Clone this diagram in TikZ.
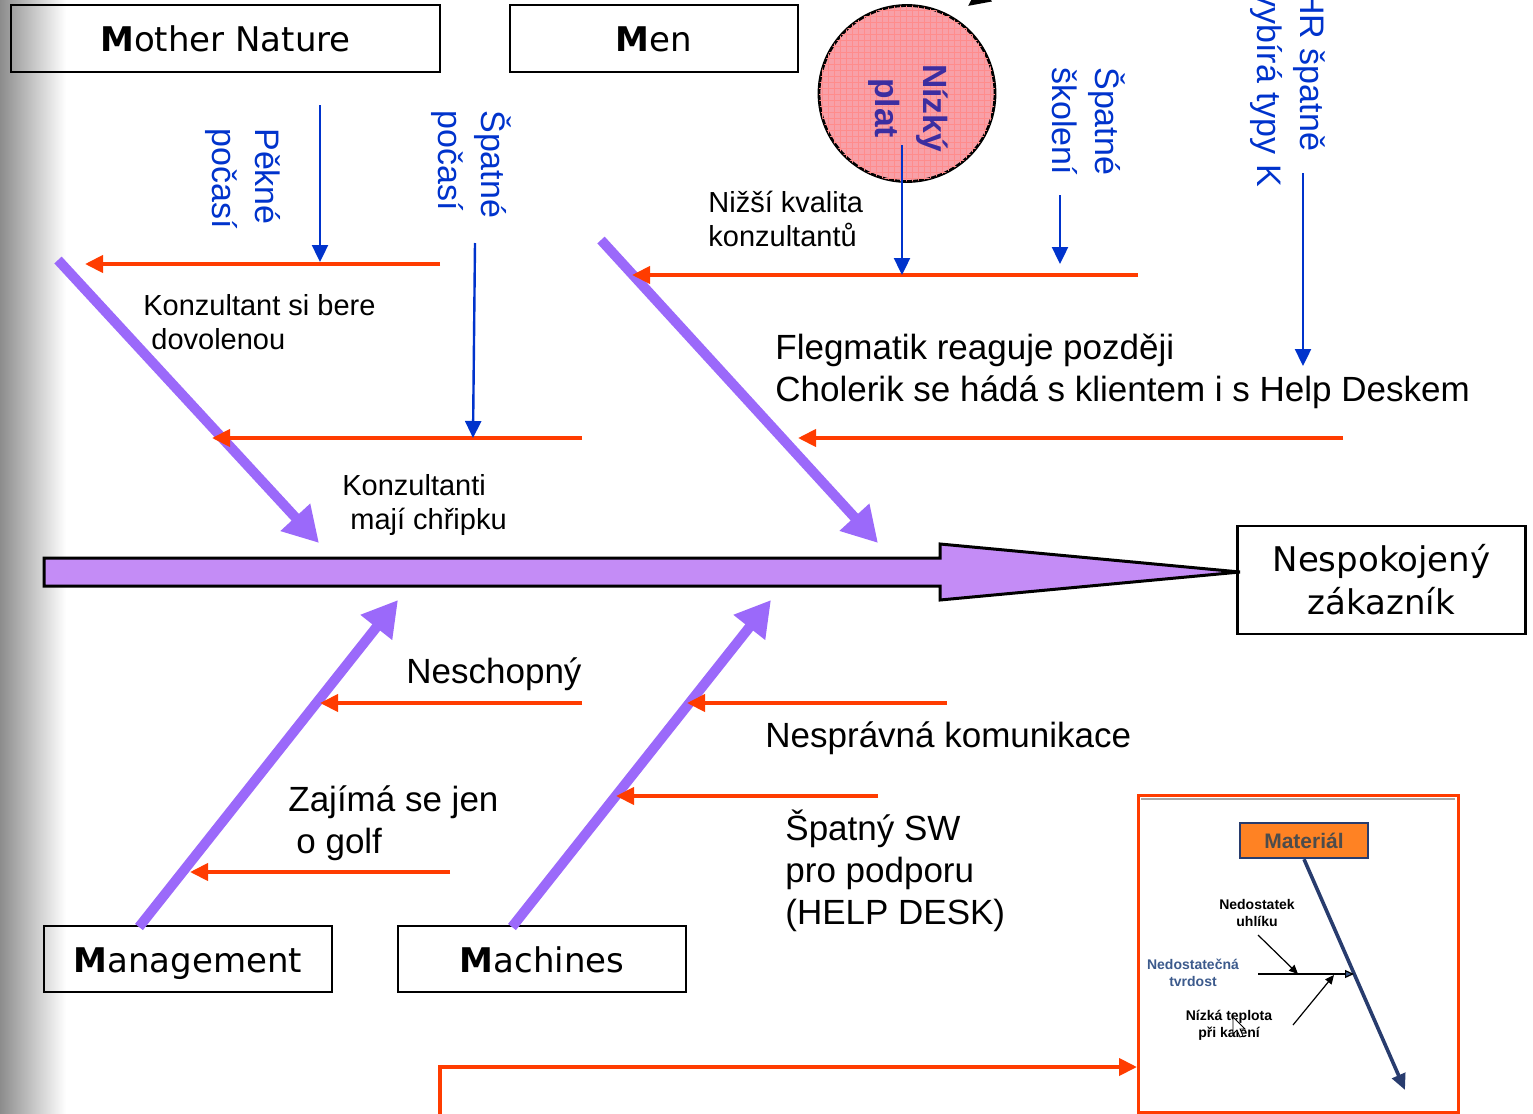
\documentclass[tikz,border=0pt]{standalone}
\usepackage{fontspec}
\setmainfont{Liberation Sans}
\newfontfamily\boxfont{DejaVu Sans}
\usetikzlibrary{arrows.meta,patterns}
\definecolor{bonepurple}{RGB}{155,105,250}
\definecolor{spinefill}{RGB}{196,140,246}
\definecolor{causered}{RGB}{255,60,0}
\definecolor{subblue}{RGB}{0,51,204}
\definecolor{platpink}{RGB}{248,160,168}
\definecolor{platblue}{RGB}{60,45,160}
\definecolor{insetnavy}{RGB}{40,60,110}
\definecolor{insetorange}{RGB}{255,130,35}
\definecolor{insetsteel}{RGB}{60,90,140}
\begin{document}
\begin{tikzpicture}[x=0.5pt,y=-0.5pt,
    catbox/.style={draw,line width=1.3pt,inner sep=0pt,minimum width=144pt,minimum height=33.5pt,font=\boxfont\fontsize{17}{21.5}\selectfont},
    mbox/.style={catbox,text height=13pt,text depth=0pt},
    bone/.style={bonepurple,line width=5pt,-{Triangle[length=17.5pt,width=19pt]}},
    cause/.style={causered,line width=2pt,-{Triangle[length=9pt,width=8.5pt]}},
    subarrow/.style={subblue,line width=1.2pt,-{Triangle[length=8.5pt,width=8pt]}},
    causetext/.style={inner sep=0pt,align=left,font=\fontsize{17.5}{21}\selectfont},
    smalltext/.style={inner sep=0pt,align=left,font=\fontsize{14.5}{17}\selectfont},
    sublabel/.style={subblue,rotate=-90,anchor=north west,inner sep=0pt,align=left,font=\fontsize{17}{21.5}\selectfont},
    platlabel/.style={platblue,rotate=-90,anchor=north,inner sep=0pt,align=center,font=\bfseries\fontsize{16.8}{24}\selectfont},
    insettext/.style={inner sep=0pt,align=center,font=\bfseries\fontsize{7}{8.5}\selectfont},
    thinarrow/.style={line width=0.6pt,-{Triangle[length=4.5pt,width=4pt]}}]
  \shade[left color=black!45,right color=white] (0,0) rectangle (66,1114);
  \useasboundingbox (0,0) rectangle (1533,1114);
  % the four M boxes and the effect
  \node[mbox,minimum width=214.5pt] (nature) at (225.5,38.5) {\textbf{M}other Nature};
  \node[mbox] (men) at (654,38.5) {\textbf{M}en};
  \node[mbox,minimum height=33pt] (mgmt) at (188,959) {\textbf{M}anagement};
  \node[mbox,minimum height=33pt] (mach) at (542,959) {\textbf{M}achines};
  \node[catbox,minimum height=54pt,align=center] (zak) at (1381.5,580) {Nespokojený\\zákazník};
  % spine
  \coordinate(tip)at(1240,572);
  \draw[line width=1.5pt,fill=spinefill] (44,558) -- (940,558) -- (940,544) -- (tip) -- (940,600) -- (940,586) -- (44,586) -- cycle;
  % bones
  \coordinate(b1s)at(58,260);\coordinate(b1t)at(319,543);
  \coordinate(b2s)at(601,240);\coordinate(b2t)at(878,543);
  \coordinate(b3s)at(139,927);\coordinate(b3t)at(398,600);
  \coordinate(b4s)at(512,927);\coordinate(b4t)at(771,600);
  \draw[bone] (b1s) -- (b1t);
  \draw[bone] (b2s) -- (b2t);
  \draw[bone] (b3s) -- (b3t);
  \draw[bone] (b4s) -- (b4t);
  % causes
  \coordinate(r1a)at(440,264);\coordinate(r1b)at(85,264);
  \coordinate(r2a)at(582,438);\coordinate(r2b)at(212,438);
  \coordinate(r3a)at(1138,275);\coordinate(r3b)at(632,275);
  \coordinate(r4a)at(1343,438);\coordinate(r4b)at(798,438);
  \coordinate(r5a)at(582,703);\coordinate(r5b)at(320,703);
  \coordinate(r6a)at(450,872);\coordinate(r6b)at(190,872);
  \coordinate(r7a)at(947,703);\coordinate(r7b)at(687,703);
  \coordinate(r8a)at(878,796);\coordinate(r8b)at(616,796);
  \draw[cause] (r1a) -- (r1b);
  \draw[cause] (r2a) -- (r2b);
  \draw[cause] (r3a) -- (r3b);
  \draw[cause] (r4a) -- (r4b);
  \draw[cause] (r5a) -- (r5b);
  \draw[cause] (r6a) -- (r6b);
  \draw[cause] (r7a) -- (r7b);
  \draw[cause] (r8a) -- (r8b);
  % salary circle
  \node[circle,draw,line width=1.4pt,fill=platpink,minimum size=88pt,inner sep=0pt,
        postaction={pattern=grid,pattern color=red!45}] (plat) at (907,93.5) {};
  \node[platlabel] (pay) at (949,108) {Nízký\\plat};
  % sub causes
  \node[sublabel] (fine) at (281,128) {Pěkné\\počasí};
  \node[sublabel] (bad) at (512,110) {Špatné\\počasí};
  \node[sublabel] (train) at (1126,67) {Špatné\\školení};
  \node[sublabel] (hr) at (1326,-10) {HR špatně\\vybírá typy K};
  \coordinate(s1a)at(320,105);\coordinate(s1b)at(320,262);
  \coordinate(s2a)at(475,243);\coordinate(s2b)at(473,438);
  \coordinate(s3a)at(902,145);\coordinate(s3b)at(902,275);
  \coordinate(s4a)at(1060,195);\coordinate(s4b)at(1060,264);
  \coordinate(s5a)at(1303,173);\coordinate(s5b)at(1303,366);
  \draw[subarrow] (s1a) -- (s1b);
  \draw[subarrow] (s2a) -- (s2b);
  \draw[subarrow] (s3a) -- (s3b);
  \draw[subarrow] (s4a) -- (s4b);
  \draw[subarrow] (s5a) -- (s5b);
  % cause texts
  \node[smalltext,anchor=north west] (vac) at (143,294) {Konzultant si bere\\\hspace{4pt}dovolenou};
  \node[smalltext,anchor=north west] (flu) at (342,474) {Konzultanti\\\hspace{4pt}mají chřipku};
  \node[smalltext,anchor=north west] (qual) at (708,191) {Nižší kvalita\\konzultantů};
  \node[causetext,anchor=north west] (temper) at (775,334) {Flegmatik reaguje později\\Cholerik se hádá s klientem i s Help Deskem};
  \node[causetext,anchor=base west] (unable) at (406,683) {Neschopný};
  \node[causetext,anchor=base west] (comm) at (765,747) {Nesprávná komunikace};
  \node[causetext,anchor=north west] (golf) at (288,785) {Zajímá se jen\\\hspace{4pt}o golf};
  \node[causetext,anchor=north west] (sw) at (785,810) {Špatný SW\\pro podporu\\(HELP DESK)};
  % arrow from outside, top
  \coordinate(k1)at(1010,-25);\coordinate(k2)at(968,6);
  \draw[line width=2pt,-{Triangle[length=11pt,width=10pt]}] (k1) -- (k2);
  % inset example
  \node[draw=causered,line width=1.5pt,minimum width=160pt,minimum height=158.5pt,inner sep=0pt] (inset) at (1298,953.5) {};
  \draw[black!35,line width=1.2pt] (1141,799) -- (1455,799);
  \node[draw=insetnavy,fill=insetorange,line width=1.2pt,minimum width=64pt,minimum height=17.5pt,inner sep=0pt,
        font=\bfseries\fontsize{10.5}{12}\selectfont,text=black!70] (mat) at (1304,840.5) {Materiál};
  \coordinate(m1)at(1405,1090);
  \draw[insetnavy,line width=1.8pt,-{Triangle[length=8pt,width=7pt]}] (mat.south) -- (m1);
  \coordinate(h1a)at(1258,974);\coordinate(h1b)at(1354,974);
  \coordinate(c1a)at(1258,935);\coordinate(c1b)at(1298,974);
  \coordinate(c2a)at(1293,1025);\coordinate(c2b)at(1334,975);
  \draw[thinarrow,-{Triangle[length=4.5pt,width=4pt,fill=insetsteel]}] (h1a) -- (h1b);
  \draw[thinarrow] (c1a) -- (c1b);
  \draw[thinarrow] (c2a) -- (c2b);
  \node[insettext] (carbon) at (1257,913) {Nedostatek\\uhlíku};
  \node[insettext,text=insetsteel] (hard) at (1193,973) {Nedostatečná\\tvrdost};
  \node[insettext] (quench) at (1229,1025) {Nízká teplota\\při kalení};
  \draw[fill=white,line width=0.4pt,shift={(1233,1017)}] (0,0) -- (0,17) -- (4,13) -- (7,20) -- (10,19) -- (7,12) -- (12,12) -- cycle;
  % link to inset
  \coordinate(r9a)at(440,1130);\coordinate(r9b)at(1137,1067);
  \draw[cause] (r9a) |- (r9b);
\end{tikzpicture}
\end{document}
